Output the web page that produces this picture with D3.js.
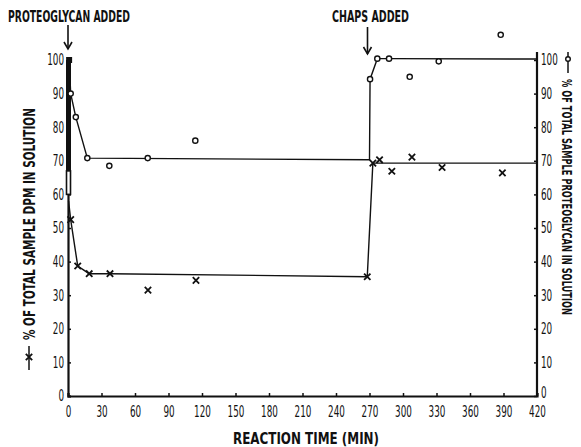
<!DOCTYPE html>
<html><head><meta charset="utf-8">
<script src="https://cdn.jsdelivr.net/npm/d3@7"></script>
<style>body{margin:0;background:#fff}svg{display:block}text{font-family:"DejaVu Sans Condensed","DejaVu Sans",sans-serif;font-weight:bold;fill:#111}</style>
</head><body><svg id="c" width="581" height="447"></svg>
<script>
const xTicks = [0,30,60,90,120,150,180,210,240,270,300,330,360,390,420];
const yTicks = [0,10,20,30,40,50,60,70,80,90,100];
// proteoglycan (open circles)
const oTimes  = [2.4,7,17.3,37,71.4,114,270.5,277,287.5,306,332,387.5];
const oValues = [90,83,70.8,68.5,70.8,76,94.3,100.4,100.4,95,99.6,107.5];
const oLineTimes  = [1,2.4,7,17.3,270,270.5,277,287.5,420];
const oLineValues = [100,90,83,70.8,70.3,94.3,100.4,100.4,100.3];
// DPM (crosses)
const xTimes  = [2.4,8.7,19,37.6,71.6,114.6,268,273,279,290,308,335,389];
const xValues = [52.5,38.7,36.4,36.4,31.5,34.4,35.5,69.3,70.3,66.9,71.1,68,66.4];
const xLineTimes  = [0.5,2.4,8.7,19,37.6,268,273,420];
const xLineValues = [58,52.5,38.7,36.4,36.4,35.5,69.3,69.3];

const svg = d3.select("#c");
const x = d3.scaleLinear().domain([0,420]).range([68,537]);
const y = d3.scaleLinear().domain([0,100]).range([396,60]);

// axes
const gL = svg.append("g").attr("transform","translate(68,0)")
  .call(d3.axisLeft(y).tickValues(yTicks).tickSize(-3).tickPadding(4));
const gR = svg.append("g").attr("transform","translate(537,0)")
  .call(d3.axisRight(y).tickValues(yTicks).tickSize(-3).tickPadding(4));
const gB = svg.append("g").attr("transform","translate(0,396)")
  .call(d3.axisBottom(x).tickValues(xTicks).tickSize(-3).tickPadding(10));
[gL,gR,gB].forEach(g=>{
  g.select(".domain").attr("stroke","#111").attr("stroke-width",2.2);
  g.selectAll(".tick line").attr("stroke","#111").attr("stroke-width",1.5);
  g.selectAll(".tick text").attr("font-size",15).style("font-family","DejaVu Sans Condensed")
   .style("font-weight","normal").attr("fill","#111")
   .attr("textLength",d=>String(d).length*5.6).attr("lengthAdjust","spacingAndGlyphs");
});
gR.select(".domain").attr("d","M0,52V396");
gR.selectAll(".tick text").filter(d=>d===0).attr("dy","0.1em");

// thick bar at t=0
svg.append("rect").attr("x",x(0)-2).attr("y",y(100)).attr("width",5).attr("height",y(67)-y(100)).attr("fill","#111");
svg.append("rect").attr("x",x(0)-1.5).attr("y",y(67)).attr("width",4).attr("height",y(60)-y(67))
  .attr("fill","#fff").attr("stroke","#111").attr("stroke-width",1.6);

const line = d3.line().x(d=>x(d[0])).y(d=>y(d[1]));
svg.append("path").datum(oLineTimes.map((t,i)=>[t,oLineValues[i]]))
  .attr("d",line).attr("fill","none").attr("stroke","#111").attr("stroke-width",1.4);
svg.append("path").datum(xLineTimes.map((t,i)=>[t,xLineValues[i]]))
  .attr("d",line).attr("fill","none").attr("stroke","#111").attr("stroke-width",1.4);

// square at 100
svg.append("rect").attr("x",x(1)-3).attr("y",y(100)-3).attr("width",6).attr("height",6).attr("fill","#111");

// circle markers
svg.selectAll("circle.o").data(oTimes.map((t,i)=>[t,oValues[i]])).join("circle")
  .attr("cx",d=>x(d[0])).attr("cy",d=>y(d[1])).attr("r",2.6)
  .attr("fill","#fff").attr("stroke","#111").attr("stroke-width",1.4);

// cross markers
const s = 3.2;
svg.selectAll("path.x").data(xTimes.map((t,i)=>[t,xValues[i]])).join("path")
  .attr("d",d=>{const cx=x(d[0]),cy=y(d[1]);return `M${cx-s},${cy-s}L${cx+s},${cy+s}M${cx+s},${cy-s}L${cx-s},${cy+s}`;})
  .attr("stroke","#111").attr("stroke-width",1.8).attr("fill","none");

// annotations
function arrow(cx,y0,y1){
  svg.append("path").attr("d",`M${cx},${y0}V${y1}`).attr("stroke","#111").attr("stroke-width",1.6);
  svg.append("path").attr("d",`M${cx-4},${y1-7}L${cx},${y1}L${cx+4},${y1-7}`).attr("stroke","#111").attr("stroke-width",1.6).attr("fill","none");
}
svg.append("text").attr("x",8).attr("y",22).attr("font-size",16).attr("textLength",122).attr("lengthAdjust","spacingAndGlyphs").text("PROTEOGLYCAN ADDED");
arrow(x(0),25,49);
svg.append("text").attr("x",332).attr("y",22).attr("font-size",16).attr("textLength",77).attr("lengthAdjust","spacingAndGlyphs").text("CHAPS ADDED");
arrow(x(270)-2,27,54);

svg.append("text").attr("x",233).attr("y",444).attr("font-size",15).attr("textLength",146).attr("lengthAdjust","spacingAndGlyphs").text("REACTION TIME (MIN)");

// left label
svg.append("text").attr("transform","translate(35,340) rotate(-90)").attr("font-size",16)
  .attr("textLength",232).attr("lengthAdjust","spacingAndGlyphs").text("% OF TOTAL SAMPLE DPM IN SOLUTION");
svg.append("path").attr("d","M29,370V346").attr("stroke","#111").attr("stroke-width",1.5);
svg.append("path").attr("d",`M${29-s},${357-s}L${29+s},${357+s}M${29+s},${357-s}L${29-s},${357+s}`).attr("stroke","#111").attr("stroke-width",1.8);

// right label
svg.append("text").attr("transform","translate(562,79) rotate(90)").attr("font-size",14)
  .attr("textLength",236).attr("lengthAdjust","spacingAndGlyphs").text("% OF TOTAL SAMPLE PROTEOGLYCAN IN SOLUTION");
svg.append("path").attr("d","M568,52V73").attr("stroke","#111").attr("stroke-width",1.5);
svg.append("circle").attr("cx",568).attr("cy",59).attr("r",2.3).attr("fill","#fff").attr("stroke","#111").attr("stroke-width",1.4);
</script></body></html>
